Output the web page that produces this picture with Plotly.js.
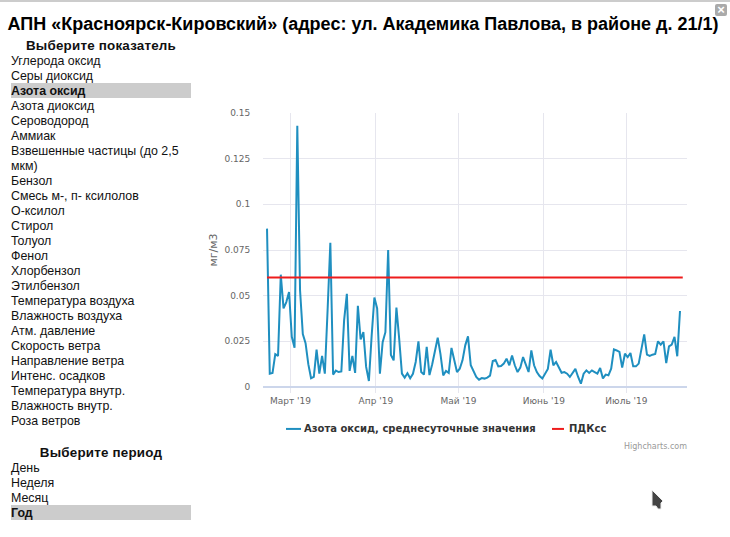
<!DOCTYPE html>
<html><head><meta charset="utf-8">
<script src="https://cdn.plot.ly/plotly-3.0.1.min.js"></script>
<style>
html,body{margin:0;padding:0;background:#fff;width:730px;height:537px;overflow:hidden;font-family:"Liberation Sans",sans-serif;color:#111}
#chart{position:absolute;left:0;top:0;width:730px;height:537px}
#topbar{position:absolute;left:0;top:0;width:730px;height:2px;background:#ccc}
.side{position:absolute;left:11px;width:180px;font-size:12.4px;line-height:15px}
.side .h{font-weight:bold;text-align:center;font-size:13.4px;letter-spacing:.2px}
.side .sel{background:#ccc;font-weight:bold}
.side span{position:relative;top:1px}
#p1{top:38px}#p2{top:445px}
#close{position:absolute;left:715px;top:4px;width:12px;height:12px;background:#aaa;color:#fff;font-size:13px;line-height:12px;text-align:center;border-radius:2px;font-weight:bold}
#cur{position:absolute;left:650px;top:488px}
</style></head><body>
<div id="chart"></div>
<div id="topbar"></div>
<div class="side" id="p1"></div>
<div class="side" id="p2"></div>
<div id="close">×</div>
<svg id="cur" width="18" height="26"><polygon points="2,2 13,13 11,15 11,21 8,21 6,18 2,18" fill="#444" stroke="#eee" stroke-width="1"/></svg>
<script>
const titleText = 'АПН «Красноярск-Кировский» (адрес: ул. Академика Павлова, в районе д. 21/1)';
const indicatorHeading = 'Выберите показатель';
const indicators = ['Углерода оксид','Серы диоксид','Азота оксид','Азота диоксид','Сероводород','Аммиак','Взвешенные частицы (до 2,5 мкм)','Бензол','Смесь м-, п- ксилолов','О-ксилол','Стирол','Толуол','Фенол','Хлорбензол','Этилбензол','Температура воздуха','Влажность воздуха','Атм. давление','Скорость ветра','Направление ветра','Интенс. осадков','Температура внутр.','Влажность внутр.','Роза ветров'];
const selectedIndicator = 'Азота оксид';
const periodHeading = 'Выберите период';
const periods = ['День','Неделя','Месяц','Год'];
const selectedPeriod = 'Год';
const seriesName = 'Азота оксид, среднесуточные значения';
const limitName = 'ПДКсс';
const unit = 'мг/м3';
const firstDay = '2019-02-20 11:00';
const lastDay = '2019-07-21 11:00';
const limitValue = 0.06;
const tickDates = ['2019-03-01','2019-04-01','2019-05-01','2019-06-01','2019-07-01'];
const tickLabels = ["Март '19","Апр '19","Май '19","Июнь '19","Июль '19"];
const yTicks = [0,0.025,0.05,0.075,0.1,0.125,0.15];
const yTickLabels = ['0','0.025','0.05','0.075','0.1','0.125','0.15'];
const values = [
.0867,.0073,.0077,.018,.017,.0615,.043,.0465,.052,.0275,.0215,.143,.053,.029,.024,.0125,.0048,.0055,.0205,.0073,
.017,.0073,.042,.079,.0068,.009,.0082,.0085,.0365,.051,.0088,.017,.0077,.0445,.026,.03,.011,.0033,.028,.049,
.043,.0073,.0245,.03,.075,.0175,.0146,.0435,.0265,.0073,.0051,.0075,.0048,.0072,.0137,.025,.0082,.0068,.022,.0065,
.0125,.02,.027,.018,.0063,.0088,.0077,.0214,.0155,.0082,.01,.0146,.0228,.0277,.0119,.0082,.0055,.004,.0049,.0046,
.0051,.0062,.0142,.0148,.0113,.0115,.0128,.0155,.0119,.0173,.0119,.0082,.0106,.0164,.0128,.0082,.02,.0119,.0082,.006,
.0047,.0073,.0099,.0204,.0119,.0137,.0106,.0078,.0082,.0073,.0055,.0077,.0099,.0055,.0018,.0073,.0091,.0077,.0091,.0082,
.0073,.0104,.0047,.0068,.0064,.01,.0206,.02,.0192,.0106,.0182,.0164,.0186,.0113,.0113,.0128,.02,.0288,.0177,.017,
.0177,.0181,.025,.0232,.025,.0131,.0223,.0232,.0274,.0168,.0416];
const seriesColor = '#1f8fc0', limitColor = '#ee1c1c';

function fill(el, heading, items, sel){
  el.innerHTML = '';
  const h = document.createElement('div'); h.className='h'; h.textContent = heading; el.appendChild(h);
  items.forEach(t=>{const d=document.createElement('div'); const s=document.createElement('span'); s.textContent=t; d.appendChild(s); if(t===sel) d.className='sel'; el.appendChild(d);});
}
fill(document.getElementById('p1'), indicatorHeading, indicators, selectedIndicator);
fill(document.getElementById('p2'), periodHeading, periods, selectedPeriod);

const W=730,H=537,mL=263,mR=43,mT=112.5,mB=150;
const px = v => (v-mL)/(W-mL-mR);
const py = v => (H-mB-v)/(H-mT-mB);
const legendFont = {family:'DejaVu Sans',size:10,color:'#333',weight:'bold'};
const note = (text,x,y,font,anchor) => ({text,xref:'paper',yref:'paper',x:px(x),y:py(y),xanchor:anchor||'left',yanchor:'middle',showarrow:false,font,borderpad:0,borderwidth:0});
const key = (x0,x1,y,color) => ({type:'line',xref:'paper',yref:'paper',x0:px(x0),x1:px(x1),y0:py(y),y1:py(y),line:{color,width:2}});
const traces = [
 {type:'scatter',mode:'lines',name:seriesName,x0:firstDay,dx:86400000,y:values,line:{color:seriesColor,width:2}},
 {type:'scatter',mode:'lines',name:limitName,x:[firstDay,lastDay],y:[limitValue,limitValue],line:{color:limitColor,width:2}}
];
const layout = {
 width:W,height:H,paper_bgcolor:'rgba(0,0,0,0)',plot_bgcolor:'rgba(0,0,0,0)',
 margin:{l:mL,r:mR,t:mT,b:mB,pad:0},
 title:{text:titleText,font:{family:'Liberation Sans',size:18,color:'#000',weight:'bold'},x:0.4973,xanchor:'center',y:0.955,yanchor:'middle'},
 showlegend:false,
 hovermode:false,
 xaxis:{type:'date',range:['2019-02-19','2019-07-23'],tickvals:tickDates,ticktext:tickLabels,tickfont:{family:'DejaVu Sans',size:9,color:'#666'},showgrid:true,gridcolor:'#e6e6ee',gridwidth:1,zeroline:false,showline:false,ticks:'outside',ticklen:5,tickcolor:'#e6e6ee',tickangle:0},
 yaxis:{range:[0,0.15],tickvals:yTicks,ticktext:yTickLabels,tickfont:{family:'DejaVu Sans',size:9,color:'#666'},showgrid:true,gridcolor:'#e6e6ee',gridwidth:1,zeroline:true,zerolinecolor:'#ccd6eb',zerolinewidth:1.5,showline:false,ticks:'outside',ticklen:10,tickcolor:'rgba(0,0,0,0)',automargin:false,title:{text:unit,font:{family:'DejaVu Sans',size:11,color:'#666'},standoff:4}},
 shapes:[key(286,301,429,seriesColor),key(552,564,429,limitColor)],
 annotations:[
  note(seriesName,304,429,legendFont),
  note(limitName,569,429,legendFont),
  note('Highcharts.com',687,447,{family:'DejaVu Sans',size:8,color:'#999'},'right')
 ]
};
Plotly.newPlot('chart',traces,layout,{displayModeBar:false,staticPlot:true});
</script>
</body></html>
